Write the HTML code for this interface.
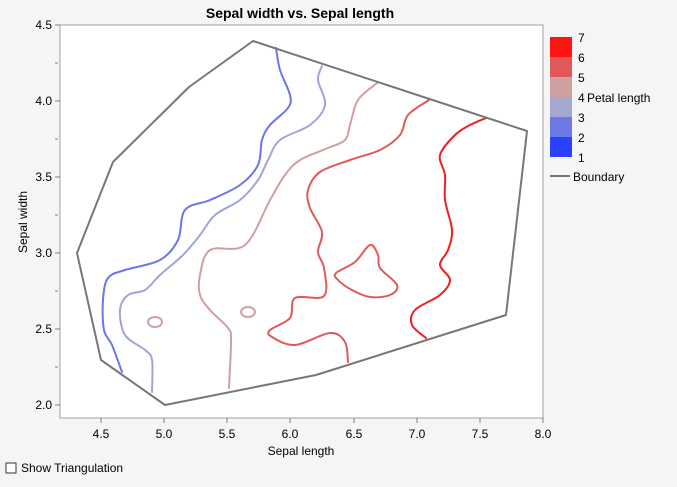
<!DOCTYPE html><html><head><style>body{margin:0;background:#f5f5f5;width:677px;height:482px;overflow:hidden;font-family:"Liberation Sans",sans-serif}</style></head><body>
<svg width="677" height="482" xmlns="http://www.w3.org/2000/svg" font-family="Liberation Sans, sans-serif">
<rect x="60" y="25" width="483" height="393" fill="#fff" stroke="#a0a0a0"/>
<text x="300" y="18" text-anchor="middle" font-size="14" font-weight="bold">Sepal width vs. Sepal length</text>
<g font-size="12" fill="#000" text-anchor="end">
<text x="52" y="29">4.5</text><text x="52" y="105">4.0</text><text x="52" y="181">3.5</text><text x="52" y="257">3.0</text><text x="52" y="333">2.5</text><text x="52" y="409">2.0</text></g>
<g stroke="#808080"><path d="M55 25H60M55 101H60M55 177H60M55 253H60M55 329H60M55 405H60M55 63H58M55 139H58M55 215H58M55 291H58M55 367H58"/>
<path d="M101 418V423M164 418V423M227 418V423M290 418V423M354 418V423M417 418V423M480 418V423M543 418V423"/></g>
<g font-size="12" text-anchor="middle"><text x="101" y="438">4.5</text><text x="164" y="438">5.0</text><text x="227" y="438">5.5</text><text x="290" y="438">6.0</text><text x="354" y="438">6.5</text><text x="417" y="438">7.0</text><text x="480" y="438">7.5</text><text x="543" y="438">8.0</text></g>
<text x="301" y="455" text-anchor="middle" font-size="12">Sepal length</text>
<text transform="translate(27 222) rotate(-90)" text-anchor="middle" font-size="12">Sepal width</text>
<g fill="none" stroke-width="2" stroke-linejoin="round" stroke-linecap="round">
<path class="s" stroke="#6b77e8" data-p="276 48 280 70 290 95 288 108 270 125 262 140 258 165 240 185 210 200 185 210 178 240 160 260 125 270 108 278 103 300 104 330 112 345 122 372"/>
<path class="s" stroke="#a0a5d8" data-p="322 66 318 80 325 105 310 125 280 140 268 160 258 180 240 200 215 215 200 235 183 255 160 275 145 290 128 295 120 310 125 335 145 350 152 360 152 392"/>
<path class="s" stroke="#d0a0a0" data-p="377 83 358 100 350 125 345 140 328 148 300 160 285 175 270 200 245 245 210 250 200 275 200 295 210 310 228 328 231 340 229 388"/>
<ellipse cx="155" cy="322" rx="7" ry="5" stroke="#d0a0a0"/><ellipse cx="248" cy="312" rx="7" ry="5" stroke="#d0a0a0"/>
<path class="s" stroke="#e05a5a" data-p="429 100 408 115 400 135 380 150 350 160 320 172 308 190 310 208 322 232 318 252 324 268 324 296 295 298 290 318 270 330 272 337 295 345 330 333 345 342 348 362"/>
<path class="s" stroke="#e05a5a" data-c="1" data-p="336 273 355 262 370 245 378 255 380 268 397 285 390 295 370 297 352 290 338 280"/>
<path class="s" stroke="#ee2020" data-p="486 118 470 125 455 135 440 155 445 175 445 200 452 230 448 250 440 265 450 280 440 295 415 310 412 325 426 338"/>
<path stroke="#777" d="M253 41L527 131L506 315L316 375L165 405L101 360L77 253L113 162L189 87Z"/>
</g>
<rect x="550" y="37" width="22" height="20" fill="#ff1414"/><rect x="550" y="57" width="22" height="20" fill="#e05858"/><rect x="550" y="77" width="22" height="20" fill="#cfa0a0"/><rect x="550" y="97" width="22" height="20" fill="#a4a8d0"/><rect x="550" y="117" width="22" height="20" fill="#6c78e6"/><rect x="550" y="137" width="22" height="20" fill="#2c40ff"/>
<g font-size="12"><text x="578" y="42">7</text><text x="578" y="62">6</text><text x="578" y="82">5</text><text x="578" y="102">4</text><text x="587" y="102">Petal length</text><text x="578" y="122">3</text><text x="578" y="142">2</text><text x="578" y="162">1</text><text x="573" y="181">Boundary</text></g>
<path d="M550 176H570" stroke="#777" stroke-width="2"/>
<rect x="6" y="463" width="10" height="10" fill="#fff" stroke="#333"/>
<text x="21" y="472" font-size="12">Show Triangulation</text>
</svg>
<script>
document.querySelectorAll('path.s').forEach(function(el){
var a=el.getAttribute('data-p').trim().split(/\s+/).map(Number),p=[];
for(var i=0;i<a.length;i+=2)p.push([a[i],a[i+1]]);
var c=el.getAttribute('data-c'),n=p.length,d='M'+p[0][0]+' '+p[0][1];
function g(i){if(c)return p[(i+n)%n];return p[Math.max(0,Math.min(n-1,i))];}
var m=c?n:n-1;
for(var i=0;i<m;i++){var p0=g(i-1),p1=g(i),p2=g(i+1),p3=g(i+2);
d+='C'+(p1[0]+(p2[0]-p0[0])/6)+' '+(p1[1]+(p2[1]-p0[1])/6)+' '+(p2[0]-(p3[0]-p1[0])/6)+' '+(p2[1]-(p3[1]-p1[1])/6)+' '+p2[0]+' '+p2[1];}
if(c)d+='Z';el.setAttribute('d',d);});
</script></body></html>
